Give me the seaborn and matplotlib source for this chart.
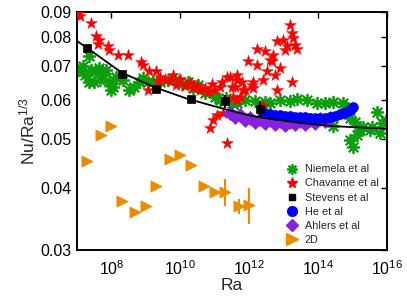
import numpy as np
import pandas as pd
import matplotlib
matplotlib.use("Agg")
import matplotlib.pyplot as plt
from matplotlib.lines import Line2D
import seaborn as sns

# ---------------- data (log10 Ra, Nu/Ra^(1/3)) ----------------
niemela_logra = [7.03, 7.17, 7.35, 7.41, 7.55, 7.64, 7.75, 7.49, 7.35, 7.93, 7.99, 8.05, 7.84, 8.13,
                 8.51, 8.66, 8.80, 8.92, 9.06, 9.21, 7.23, 7.67, 8.25, 8.34,
                 9.41, 9.64, 9.85, 10.05, 10.22, 10.37, 10.51, 10.72, 10.86, 11.01, 11.15, 11.33,
                 11.50, 11.65, 11.88, 12.17, 12.46, 12.60, 12.89, 13.18, 13.39, 13.68, 13.97,
                 14.20, 14.43, 14.72, 14.43, 14.84, 14.93, 15.07, 14.93, 15.01, 15.13, 15.22,
                 15.30, 15.51, 15.57, 15.71, 15.80, 15.86, 15.97]
niemela_nu = [0.0689, 0.0702, 0.0736, 0.0689, 0.0685, 0.0695, 0.0673, 0.0652, 0.0652, 0.0652, 0.0628,
              0.0637, 0.0689, 0.0667, 0.0628, 0.0637, 0.0650, 0.0664, 0.0652, 0.0650, 0.0673, 0.0658,
              0.0664, 0.0658,
              0.0652, 0.0658, 0.0658, 0.0646, 0.0652, 0.0634, 0.0643, 0.0619, 0.0622, 0.0609, 0.0600,
              0.0606, 0.0592, 0.0592, 0.0600, 0.0597, 0.0595, 0.0592, 0.0600, 0.0597, 0.0603, 0.0600,
              0.0592, 0.0592, 0.0595, 0.0592, 0.0531, 0.0577, 0.0552, 0.0542, 0.0499, 0.0483, 0.0510,
              0.0522, 0.0529, 0.0522, 0.0529, 0.0567, 0.0515, 0.0540, 0.0547]

chavanne_logra = [7.06, 7.09, 7.41, 7.55, 7.64, 7.61, 7.90, 7.93, 8.19, 8.48, 8.86, 8.92, 9.09, 9.29,
                  9.06, 9.35, 9.41, 9.56, 9.70, 9.79, 9.87, 9.99, 10.14, 10.28, 10.37, 10.48, 10.57,
                  10.72, 10.80, 10.92, 11.01, 11.15, 11.07, 10.95, 10.86, 11.24, 11.36, 11.21, 11.36,
                  11.44, 11.65, 11.65, 11.50, 11.79, 11.59, 11.88, 12.08, 12.11, 11.82, 11.73, 11.65,
                  11.53, 12.40, 11.97, 12.23, 12.46, 12.69, 12.23, 12.66, 12.60, 12.52, 12.75, 12.40,
                  12.89, 12.81, 12.98, 13.04, 13.10, 13.18, 13.24, 13.27, 13.39, 13.33, 13.24, 12.81,
                  12.11]
chavanne_nu = [0.0895, 0.0882, 0.0856, 0.0806, 0.0791, 0.0777, 0.0770, 0.0755, 0.0738, 0.0738, 0.0715,
               0.0705, 0.0685, 0.0685, 0.0628, 0.0655, 0.0667, 0.0660, 0.0655, 0.0673, 0.0643, 0.0660,
               0.0640, 0.0650, 0.0634, 0.0643, 0.0628, 0.0634, 0.0622, 0.0646, 0.0628, 0.0637, 0.0560,
               0.0547, 0.0527, 0.0565, 0.0491, 0.0650, 0.0668, 0.0668, 0.0673, 0.0658, 0.0637, 0.0652,
               0.0637, 0.0628, 0.0643, 0.0634, 0.0628, 0.0609, 0.0600, 0.0609, 0.0586, 0.0718, 0.0758,
               0.0752, 0.0738, 0.0705, 0.0718, 0.0721, 0.0685, 0.0673, 0.0658, 0.0695, 0.0787, 0.0790,
               0.0755, 0.0768, 0.0846, 0.0817, 0.0798, 0.0758, 0.0773, 0.0650, 0.0628, 0.0650]

stevens_ra = [2e7, 2e8, 2e9, 2e10, 2e11, 2e12]
stevens_nu = [0.0762, 0.0677, 0.0631, 0.0603, 0.0596, 0.0575]
stevens_err = [0.0, 0.0, 0.0, 0.0, 0.0018, 0.0023]

fit_logra = [7.0, 7.3, 8.3, 9.3, 10.2, 11.2, 11.7, 12.2, 13.5, 14.5, 16.0]
fit_nu = [0.0787, 0.0762, 0.0680, 0.0634, 0.0603, 0.0577, 0.0565, 0.0555, 0.0539, 0.0531, 0.0525]

he_logra = [12.46, 12.60, 12.75, 12.89, 13.04, 13.18, 13.33, 13.48, 13.62, 13.77, 13.91, 14.06,
            14.20, 14.35, 14.49, 14.64, 14.75, 14.87, 14.96, 15.01]
he_nu = [0.0565, 0.0562, 0.0560, 0.0560, 0.0557, 0.0557, 0.0555, 0.0555, 0.0555, 0.0552, 0.0552,
         0.0552, 0.0552, 0.0555, 0.0557, 0.0562, 0.0565, 0.0570, 0.0575, 0.0580]

ahlers_logra = [11.44, 11.59, 11.73, 11.88, 12.02, 12.17, 12.31, 12.46, 12.60, 12.75, 12.89, 13.04,
                13.18, 13.33, 13.48, 13.62, 13.77, 13.91, 14.06, 14.20, 14.35]
ahlers_nu = [0.0565, 0.0555, 0.0560, 0.0547, 0.0552, 0.0542, 0.0550, 0.0539, 0.0547, 0.0537, 0.0545,
             0.0534, 0.0542, 0.0537, 0.0545, 0.0537, 0.0547, 0.0539, 0.0550, 0.0545, 0.0552]

twod_ra = [2e7, 5e7, 1e8, 2e8, 5e8, 1e9, 2e9, 5e9, 1e10, 2e10, 5e10, 1e11, 2e11, 5e11, 1e12]
twod_nu = [0.0453, 0.0510, 0.0532, 0.0376, 0.0357, 0.0368, 0.0403, 0.0457, 0.0466, 0.0444,
           0.0404, 0.0392, 0.0392, 0.0367, 0.0369]
twod_err = [0, 0, 0, 0, 0, 0, 0, 0, 0, 0, 0, 0, 0.0024, 0.0012, 0.0030]

labels = ["Niemela et al", "Chavanne et al", "Stevens et al", "He et al", "Ahlers et al", "2D"]
xtick_vals = [1e8, 1e10, 1e12, 1e14, 1e16]
xtick_labels = ["8", "10", "12", "14", "16"]
ytick_vals = [0.03, 0.04, 0.05, 0.06, 0.07, 0.08, 0.09]
ytick_labels = ["0.03", "0.04", "0.05", "0.06", "0.07", "0.08", "0.09"]

# ---------------- style ----------------
sns.set_style("white")
plt.rcParams["font.family"] = ["Liberation Sans", "DejaVu Sans"]
plt.rcParams["mathtext.fontset"] = "custom"
plt.rcParams["mathtext.rm"] = "Liberation Sans"
plt.rcParams["mathtext.it"] = "Liberation Sans:italic"

GREEN = "#0a9e0a"
RED = "#ff0000"
BLUE = "#0000ff"
PURPLE = "#8422e0"
ORANGE = "#ec8a00"

fig = plt.figure(figsize=(4.07, 3.06), dpi=100)
ax = fig.add_axes([0.189, 0.183, 0.762, 0.778])

df_n = pd.DataFrame({"Ra": np.power(10.0, niemela_logra), "Nu": niemela_nu})
df_c = pd.DataFrame({"Ra": np.power(10.0, chavanne_logra), "Nu": chavanne_nu})
df_s = pd.DataFrame({"Ra": stevens_ra, "Nu": stevens_nu})
df_f = pd.DataFrame({"Ra": np.power(10.0, fit_logra), "Nu": fit_nu})
df_h = pd.DataFrame({"Ra": np.power(10.0, he_logra), "Nu": he_nu})
df_a = pd.DataFrame({"Ra": np.power(10.0, ahlers_logra), "Nu": ahlers_nu})
df_2 = pd.DataFrame({"Ra": twod_ra, "Nu": twod_nu})

ast = (8, 2, 0)
sns.scatterplot(data=df_n, x="Ra", y="Nu", ax=ax, marker=ast, s=70, color=GREEN,
                edgecolor=GREEN, linewidth=1.3, zorder=2)
sns.scatterplot(data=df_c, x="Ra", y="Nu", ax=ax, marker="*", s=80, color=RED,
                edgecolor=RED, linewidth=0.3, zorder=3)
sns.scatterplot(data=df_a, x="Ra", y="Nu", ax=ax, marker="D", s=50, color=PURPLE,
                edgecolor=PURPLE, linewidth=0.5, zorder=4)
sns.scatterplot(data=df_h, x="Ra", y="Nu", ax=ax, marker="o", s=50, color=BLUE,
                edgecolor=BLUE, linewidth=0.5, zorder=5)
sns.lineplot(data=df_f, x="Ra", y="Nu", ax=ax, color="black", linewidth=1.3, zorder=6)
ax.errorbar(stevens_ra, stevens_nu, yerr=stevens_err, fmt="none", ecolor="black", elinewidth=1.5,
            zorder=7)
sns.scatterplot(data=df_s, x="Ra", y="Nu", ax=ax, marker="s", s=36, color="black",
                edgecolor="black", linewidth=0.5, zorder=8)
ax.errorbar(twod_ra, twod_nu, yerr=twod_err, fmt="none", ecolor=ORANGE, elinewidth=1.5, zorder=7)
sns.scatterplot(data=df_2, x="Ra", y="Nu", ax=ax, marker=">", s=65, color=ORANGE,
                edgecolor=ORANGE, linewidth=0.5, zorder=8)

ax.set_xscale("log")
ax.set_yscale("log")
ax.set_xlim(1e7, 1e16)
ax.set_ylim(0.03, 0.09)

ax.xaxis.set_major_locator(matplotlib.ticker.FixedLocator(xtick_vals))
ax.xaxis.set_major_formatter(matplotlib.ticker.FixedFormatter(
    [r"$\mathregular{10^{%s}}$" % e for e in xtick_labels]))
ax.xaxis.set_minor_locator(matplotlib.ticker.NullLocator())
ax.yaxis.set_major_locator(matplotlib.ticker.FixedLocator(ytick_vals))
ax.yaxis.set_major_formatter(matplotlib.ticker.FixedFormatter(ytick_labels))
ax.yaxis.set_minor_locator(matplotlib.ticker.NullLocator())

ax.tick_params(axis="both", which="major", direction="in", length=4, width=1.0,
               top=True, right=True, labelsize=11.5, colors="black")
ax.tick_params(axis="x", pad=7)
ax.tick_params(axis="y", pad=4)
for sp in ax.spines.values():
    sp.set_visible(True)
    sp.set_color("black")
    sp.set_linewidth(1.4)

ax.set_xlabel("Ra", fontsize=12.5, labelpad=0)
ax.set_ylabel(r"Nu/Ra$^{1/3}$", fontsize=12.5, labelpad=2)

handles = [
    Line2D([], [], linestyle="none", marker=ast, markersize=7.5, color=GREEN, markeredgewidth=1.3),
    Line2D([], [], linestyle="none", marker="*", markersize=8, color=RED),
    Line2D([], [], linestyle="none", marker="s", markersize=5, color="black"),
    Line2D([], [], linestyle="none", marker="o", markersize=7, color=BLUE),
    Line2D([], [], linestyle="none", marker="D", markersize=6, color=PURPLE),
    Line2D([], [], linestyle="none", marker=">", markersize=8, color=ORANGE),
]
ax.legend(handles, labels, loc="lower right", bbox_to_anchor=(1.0, -0.015), frameon=False,
          fontsize=7.8, labelspacing=0.38, handlelength=1.0, handletextpad=0.7, borderpad=0.3)

fig.savefig("out.png", dpi=100)
